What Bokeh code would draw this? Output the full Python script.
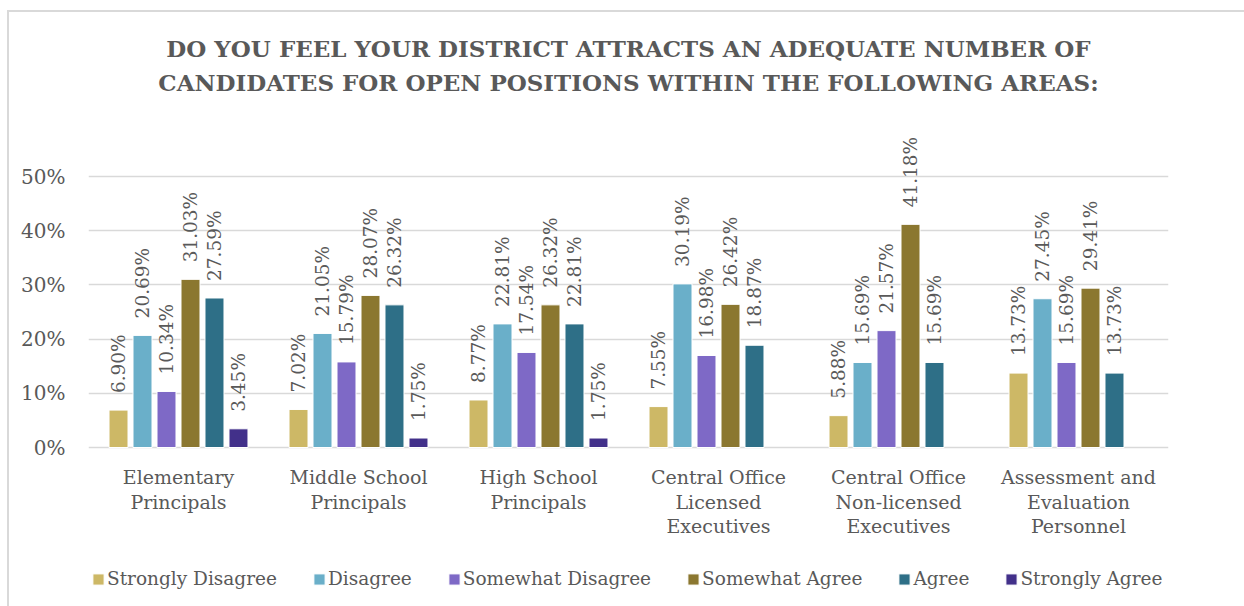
import math
from bokeh.plotting import figure
from bokeh.models import (ColumnDataSource, FactorRange, Range1d, FixedTicker,
                          NumeralTickFormatter, Legend, LegendItem)
from bokeh.transform import dodge
from bokeh.core.properties import value
from bokeh.embed import file_html
from bokeh.resources import INLINE

categories = ["Elementary\nPrincipals", "Middle School\nPrincipals", "High School\nPrincipals",
              "Central Office\nLicensed\nExecutives", "Central Office\nNon-licensed\nExecutives",
              "Assessment and\nEvaluation\nPersonnel"]
series = ["Strongly Disagree", "Disagree", "Somewhat Disagree", "Somewhat Agree", "Agree", "Strongly Agree"]
strongly_disagree = [6.90, 7.02, 8.77, 7.55, 5.88, 13.73]
disagree = [20.69, 21.05, 22.81, 30.19, 15.69, 27.45]
somewhat_disagree = [10.34, 15.79, 17.54, 16.98, 21.57, 15.69]
somewhat_agree = [31.03, 28.07, 26.32, 26.42, 41.18, 29.41]
agree = [27.59, 26.32, 22.81, 18.87, 15.69, 13.73]
strongly_agree = [3.45, 1.75, 1.75, None, None, None]
colors = ["#CDB866", "#6AAFC9", "#7E69C6", "#8B7730", "#2E6F87", "#42308A"]
y_ticks = [0, 0.1, 0.2, 0.3, 0.4, 0.5]

title_lines = ["DO YOU FEEL YOUR DISTRICT ATTRACTS AN ADEQUATE NUMBER OF",
               "CANDIDATES FOR OPEN POSITIONS WITHIN THE FOLLOWING AREAS:"]

FONT = "DejaVu Serif"
TXT = "#595959"
PX = 541.9                      # pixels per unit of y (10% = 54.2 px)
FRAME_H = 588                   # frame covers title and legend area too
Y_TOP = 435 / PX                # room above the 0 line for the titles
Y_BOT = -(FRAME_H - 435) / PX   # room below the 0 line for labels and legend

p = figure(x_range=FactorRange(*categories, range_padding=0), y_range=Range1d(Y_BOT, Y_TOP),
           frame_width=1080, frame_height=FRAME_H, output_backend="svg", toolbar_location=None,
           title=None, min_border_left=79, min_border_right=76, min_border_top=0,
           min_border_bottom=6)
p.outline_line_color = None
p.styles = {"margin-left": "7px", "margin-top": "10px",
            "border-left": "2px solid #d9d9d9", "border-top": "2px solid #d9d9d9"}

# titles (drawn inside the frame, centred on the plot)
title_src = ColumnDataSource(dict(x=[3.0, 3.0], y=[399 / PX, 365 / PX], t=title_lines))
p.text(x="x", y="y", text="t", source=title_src, text_align="center", text_baseline="middle",
       text_font=value(FONT), text_font_size="23px", text_font_style="bold", text_color=TXT)

all_vals = [strongly_disagree, disagree, somewhat_disagree, somewhat_agree, agree, strongly_agree]
pitch = 0.1333
bar_w = 0.1055
items = []
for i, (name, vals, col) in enumerate(zip(series, all_vals, colors)):
    cats = [c for c, v in zip(categories, vals) if v is not None]
    vv = [v / 100 for v in vals if v is not None]
    lbl = ["%.2f%%" % v for v in vals if v is not None]
    src = ColumnDataSource(dict(cat=cats, val=vv, lbl=lbl))
    off = (i - 2.5) * pitch
    r = p.vbar(x=dodge("cat", off, range=p.x_range), top="val", width=bar_w, source=src,
               fill_color=col, line_color="white", line_width=1)
    p.text(x=dodge("cat", off, range=p.x_range), y="val", text="lbl", source=src,
           angle=math.pi / 2, text_align="left", text_baseline="middle", y_offset=-17,
           text_font=value(FONT), text_font_size="18.5px", text_color=TXT)
    items.append(LegendItem(label=name, renderers=[r]))

# category labels below the 0 line
cat_src = ColumnDataSource(dict(cat=categories, y=[-18.5 / PX] * len(categories)))
p.text(x="cat", y="y", text="cat", source=cat_src, text_align="center", text_baseline="top",
       text_font=value(FONT), text_font_size="19px", text_color=TXT, text_line_height=1.12)

legend = Legend(items=items, orientation="horizontal", location=(3, 11),
                label_text_font=FONT, label_text_font_size="18.5px", label_text_color=TXT,
                glyph_width=14, glyph_height=14, label_standoff=2, spacing=35,
                padding=2, margin=0, border_line_color=None, background_fill_alpha=0)
p.add_layout(legend, "center")

p.xgrid.visible = False
p.xaxis.visible = False
p.ygrid.grid_line_color = "#d9d9d9"
p.ygrid.grid_line_width = 1.5

p.yaxis.ticker = FixedTicker(ticks=y_ticks)
p.yaxis.formatter = NumeralTickFormatter(format="0%")
p.yaxis.axis_line_color = None
p.yaxis.major_tick_line_color = None
p.yaxis.minor_tick_line_color = None
p.yaxis.major_label_text_font = FONT
p.yaxis.major_label_text_color = TXT
p.yaxis.major_label_text_font_size = "20px"
p.yaxis.major_label_standoff = 17

open("out.html", "w").write(file_html(p, INLINE))
